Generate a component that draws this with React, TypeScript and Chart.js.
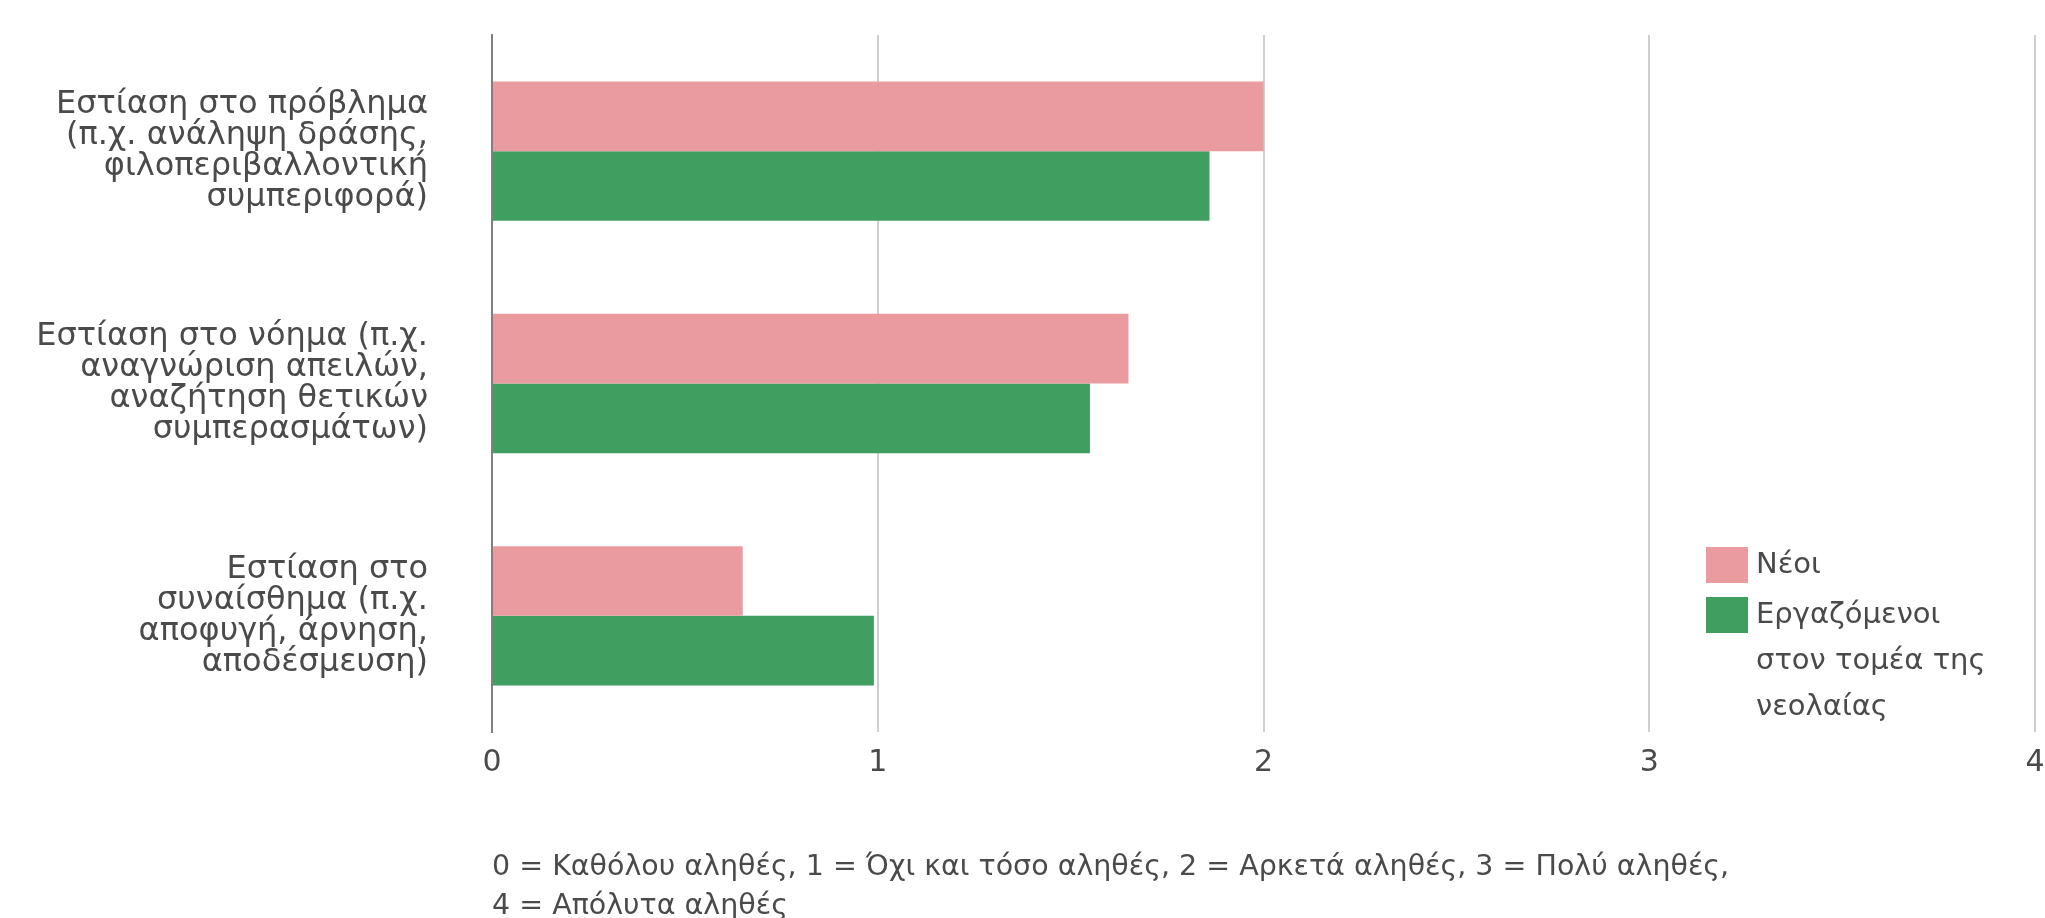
import React, { useEffect, useRef } from 'react';
import { Chart, registerables } from 'chart.js';

Chart.register(...registerables);

// Coping strategies (multi-line category labels)
const categories: string[][] = [
  ['Εστίαση στο πρόβλημα', '(π.χ. ανάληψη δράσης,', 'φιλοπεριβαλλοντική', 'συμπεριφορά)'],
  ['Εστίαση στο νόημα (π.χ.', 'αναγνώριση απειλών,', 'αναζήτηση θετικών', 'συμπερασμάτων)'],
  ['Εστίαση στο', 'συναίσθημα (π.χ.', 'αποφυγή, άρνηση,', 'αποδέσμευση)'],
];

// Mean scores per group
const youthValues = [2.0, 1.65, 0.65];
const workerValues = [1.86, 1.55, 0.99];

const seriesLabels: string[][] = [['Νέοι'], ['Εργαζόμενοι', 'στον τομέα της', 'νεολαίας']];
const seriesColors = ['#E99BA0', '#3F9E60'];

const xTickLabels = ['0', '1', '2', '3', '4'];

const scaleNote = [
  '0 = Καθόλου αληθές, 1 = Όχι και τόσο αληθές, 2 = Αρκετά αληθές, 3 = Πολύ αληθές,',
  '4 = Απόλυτα αληθές',
];

const FONT = "'DejaVu Sans', 'Open Sans', sans-serif";
const TEXT = '#4a4a4a';

// Legend drawn inside the plot area, near its lower-right corner
const innerLegend = {
  id: 'innerLegend',
  afterDraw(chart: any) {
    const { ctx, chartArea } = chart;
    const boxW = 42;
    const boxH = 36;
    const rowGap = 50;
    const lineH = 46;
    const x0 = chartArea.right - 329;
    let y = chartArea.bottom - 185;
    ctx.save();
    ctx.font = `29px ${FONT}`;
    ctx.textBaseline = 'middle';
    ctx.textAlign = 'left';
    chart.data.datasets.forEach((ds: any, i: number) => {
      ctx.fillStyle = ds.backgroundColor;
      ctx.fillRect(x0, y, boxW, boxH);
      ctx.fillStyle = TEXT;
      seriesLabels[i].forEach((line, j) => {
        ctx.fillText(line, x0 + boxW + 8, y + boxH / 2 + j * lineH);
      });
      y += rowGap;
    });
    ctx.restore();
  },
};

export default function App() {
  const canvasRef = useRef<HTMLCanvasElement | null>(null);

  useEffect(() => {
    document.body.style.margin = '0';
    const canvas = canvasRef.current;
    if (!canvas) return;

    const chart = new Chart(canvas, {
      type: 'bar',
      data: {
        labels: categories,
        datasets: [
          {
            label: seriesLabels[0].join(' '),
            data: youthValues,
            backgroundColor: seriesColors[0],
            borderWidth: 0,
            categoryPercentage: 0.6,
            barPercentage: 1.0,
          },
          {
            label: seriesLabels[1].join(' '),
            data: workerValues,
            backgroundColor: seriesColors[1],
            borderWidth: 0,
            categoryPercentage: 0.6,
            barPercentage: 1.0,
          },
        ],
      },
      options: {
        indexAxis: 'y',
        animation: false,
        responsive: true,
        maintainAspectRatio: false,
        layout: { padding: { top: 35, right: 10, left: 0, bottom: 0 } },
        plugins: {
          legend: { display: false },
          tooltip: { enabled: false },
        },
        scales: {
          x: {
            min: 0,
            max: 4,
            ticks: {
              stepSize: 1,
              padding: 13,
              color: TEXT,
              font: { family: FONT, size: 30 },
              callback: (v: any) => xTickLabels[Number(v)] ?? '',
            },
            grid: {
              drawTicks: false,
              lineWidth: 2,
              color: (c: any) => (c.tick && c.tick.value === 0 ? '#808080' : '#cfcfcf'),
            },
            border: { display: false },
            title: {
              display: true,
              text: scaleNote,
              align: 'start',
              color: TEXT,
              font: { family: FONT, size: 28.5, lineHeight: 1.37 },
              padding: { top: 0, bottom: -8 },
            },
            afterFit(scale: any) {
              scale.height = 186;
              scale.paddingLeft = 0;
              scale.paddingRight = 0;
            },
          },
          y: {
            ticks: {
              padding: 64,
              color: TEXT,
              font: { family: FONT, size: 32, lineHeight: 0.97 },
            },
            grid: { display: false, drawTicks: false },
            border: { display: true, color: '#808080', width: 2 },
            afterFit(scale: any) {
              scale.width = 492;
              scale.paddingTop = 0;
              scale.paddingBottom = 0;
            },
          },
        },
      },
      plugins: [innerLegend],
    });

    return () => chart.destroy();
  }, []);

  return (
    <div style={{ position: 'relative', width: 2045, height: 918, background: '#ffffff' }}>
      <canvas ref={canvasRef} />
    </div>
  );
}
